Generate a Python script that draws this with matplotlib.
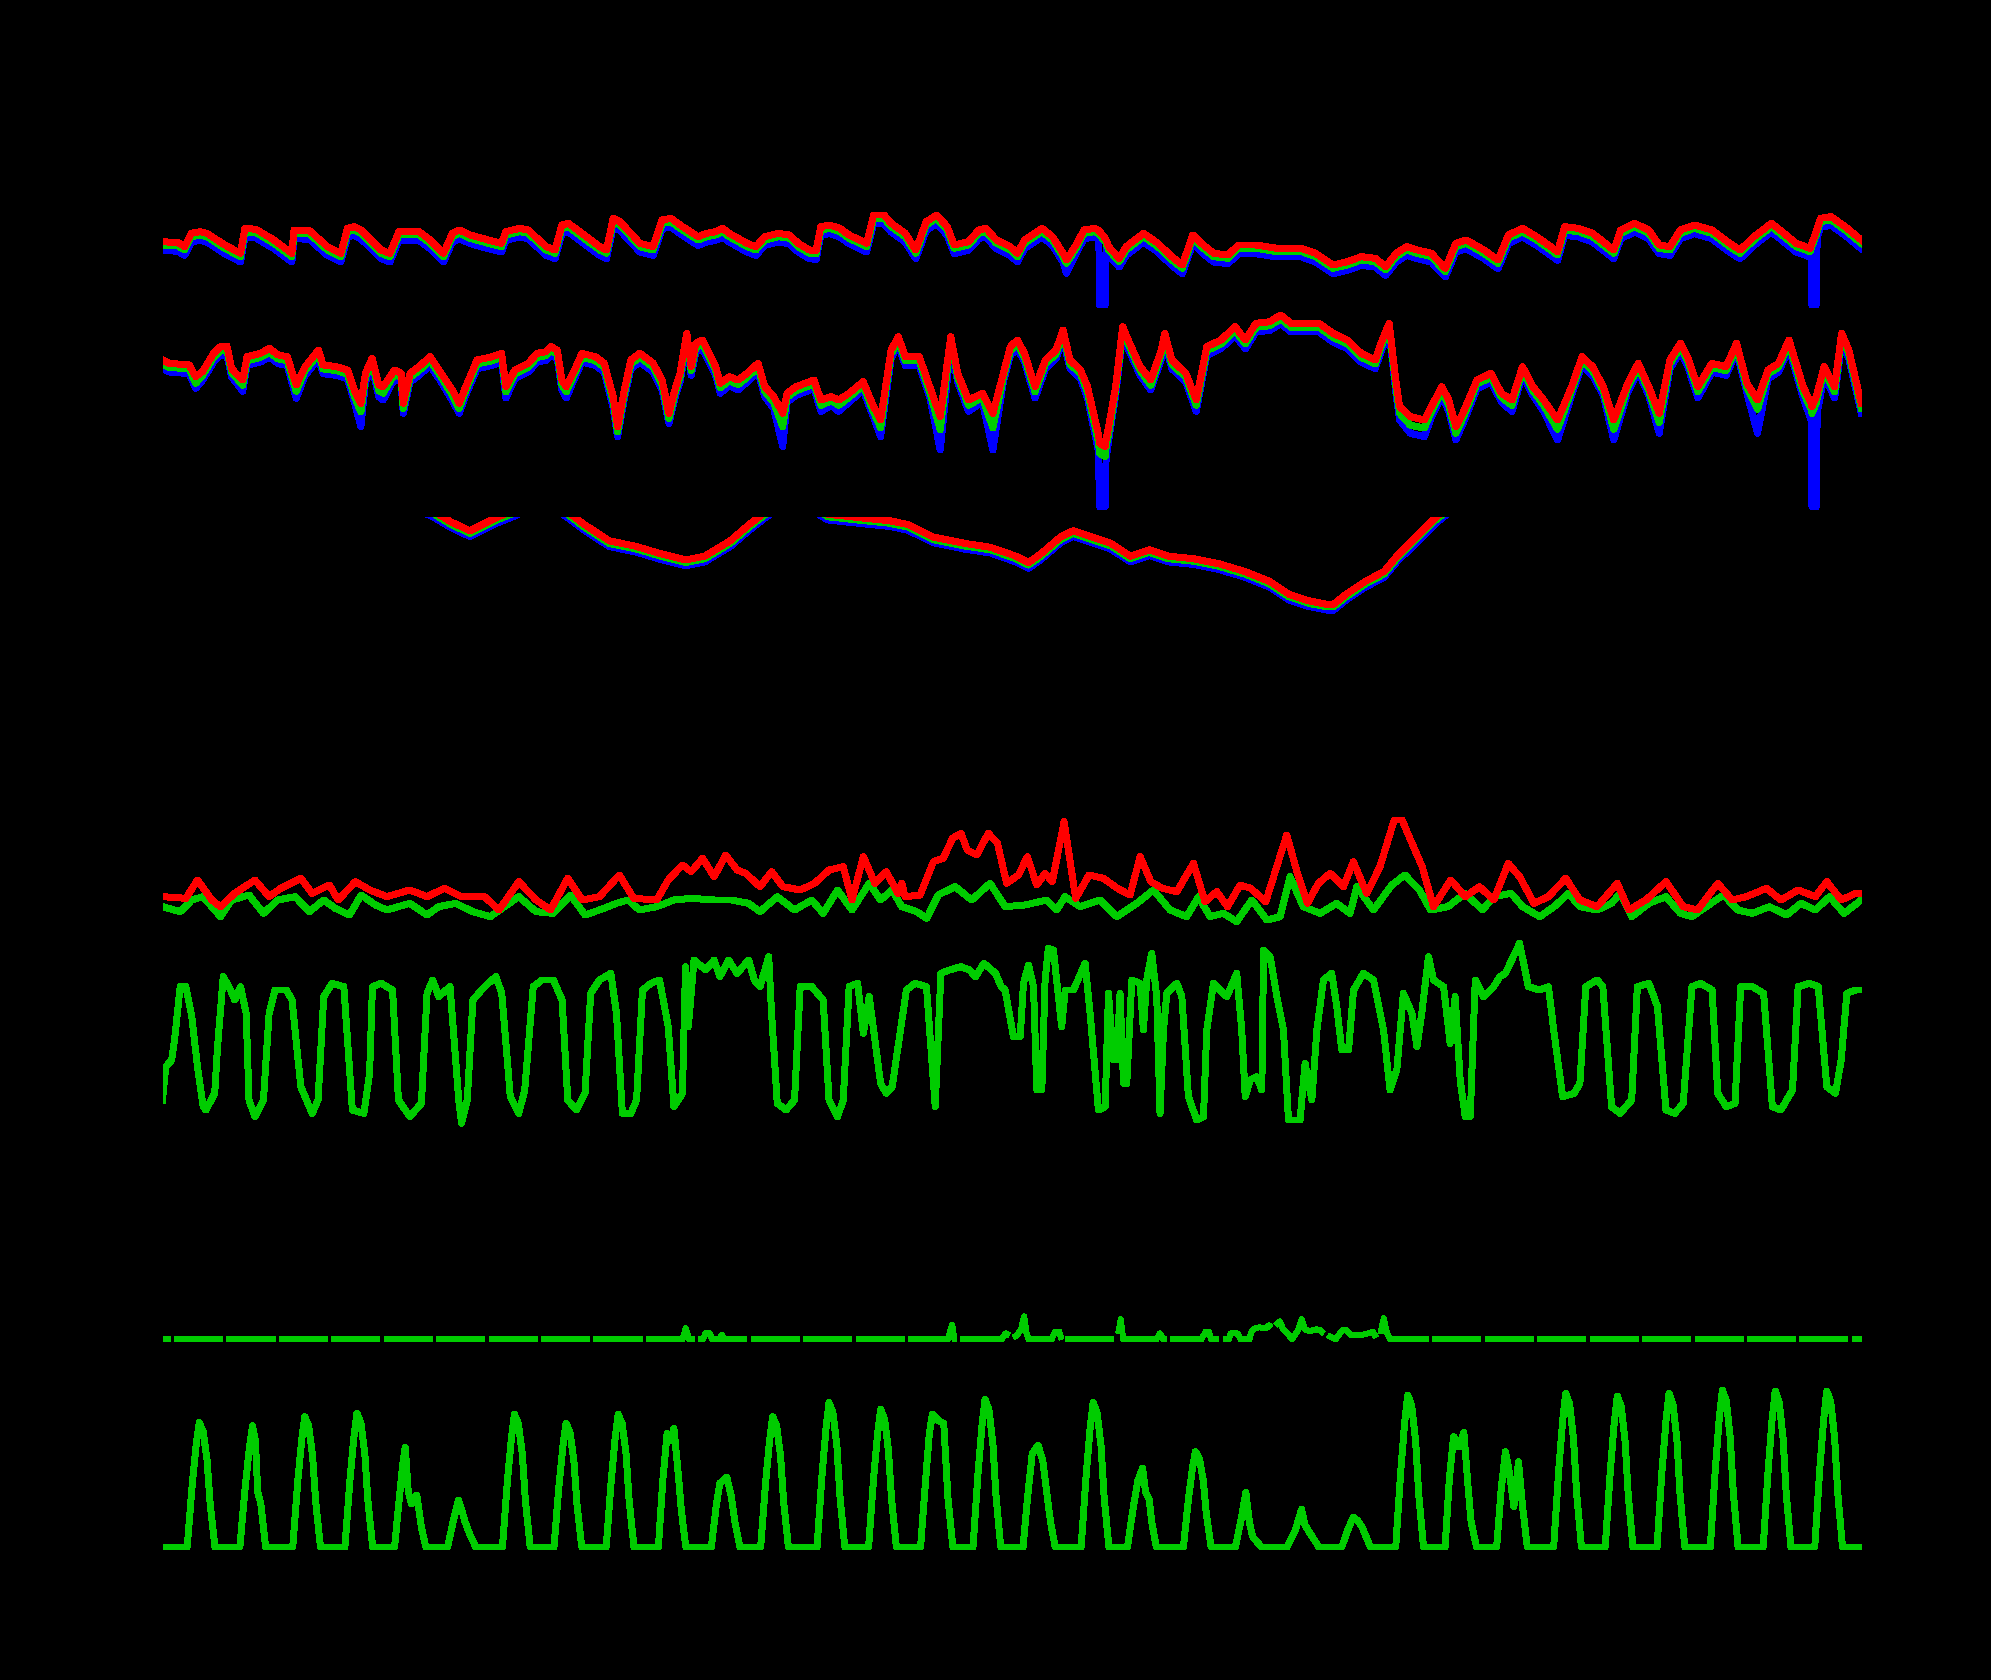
import numpy as np
import matplotlib
matplotlib.use("Agg")
import matplotlib.pyplot as plt

nan = np.nan

# ---------------- data (time in hours from start) ----------------
# Panel 1: temperature max / mean / min (degC)
t_temp = [0, 7.1, 10.1, 13.2, 17.3, 20.3, 28.5, 35.7, 37.7, 42.8,
          51.0, 59.2, 60.2, 67.3, 75.5, 81.6, 84.7, 87.8, 90.8, 100.0,
          104.1, 108.2, 117.4, 122.5, 128.6, 132.7, 135.8, 140.9, 149.1, 155.2,
          157.2, 163.4, 167.4, 175.6, 179.7, 182.8, 185.8, 188.9, 200.1, 203.2,
          206.3, 209.3, 214.4, 218.5, 224.6, 228.7, 232.8, 236.9, 245.1, 249.2,
          253.2, 256.3, 259.4, 267.6, 271.6, 275.7, 281.9, 287.0, 291.0, 296.1,
          299.2, 301.3, 305.3, 310.0, 314.3, 322.3, 325.5, 330.3, 333.5, 340.0,
          344.8, 349.6, 354.4, 359.2, 362.4, 368.9, 373.7, 376.9, 381.7, 388.1,
          391.3, 394.6, 402.6, 407.4, 412.2, 413.8, 418.6, 421.8, 426.7, 428.6,
          429.0, 431.5, 431.9, 433.1, 437.9, 441.1, 449.1, 455.6, 462.0, 466.8,
          471.6, 476.4, 481.2, 487.7, 492.5, 500.5, 510.2, 521.4, 527.8, 535.8,
          542.3, 548.7, 555.1, 559.9, 564.7, 569.5, 574.4, 580.8, 587.2, 592.0,
          596.8, 604.9, 611.3, 616.1, 622.5, 629.0, 638.6, 641.8, 648.2, 654.6,
          664.3, 667.5, 673.9, 680.3, 685.1, 690.0, 694.8, 701.2, 709.2, 717.3,
          722.1, 728.5, 736.5, 741.3, 747.8, 754.2, 754.6, 755.0, 757.0, 757.4,
          759.0, 763.8, 770.2, 777.6]
temp_max = [27.5, 27.2, 26.0, 30.0, 30.5, 30.0, 26.5, 24.0, 31.5, 31.2,
            28.0, 24.0, 31.0, 30.8, 26.0, 24.0, 31.5, 32.0, 31.0, 25.0,
            24.0, 30.5, 30.5, 28.0, 24.0, 30.0, 31.0, 29.5, 28.0, 27.0,
            30.5, 31.5, 31.0, 26.0, 25.0, 32.5, 33.0, 31.5, 26.0, 25.0,
            34.5, 33.5, 30.0, 27.0, 26.0, 34.0, 34.5, 32.5, 29.0, 30.0,
            30.5, 31.5, 30.0, 27.0, 26.0, 29.0, 30.0, 29.5, 27.0, 25.0,
            24.8, 32.0, 32.5, 31.5, 29.5, 27.0, 35.5, 35.5, 33.0, 30.0,
            25.0, 33.5, 35.5, 32.0, 26.5, 27.5, 31.0, 31.5, 28.0, 26.0,
            24.0, 28.0, 31.5, 29.0, 24.0, 22.0, 27.0, 31.0, 31.5, 30.8,
            30.5, 28.5, 28.0, 26.0, 22.5, 26.0, 30.0, 27.0, 23.0, 20.5,
            29.5, 26.5, 24.0, 23.5, 26.5, 26.5, 25.5, 25.5, 24.0, 20.5,
            21.5, 23.0, 22.5, 20.0, 24.0, 26.0, 25.0, 24.0, 19.5, 27.0,
            28.0, 25.0, 22.0, 29.5, 31.5, 29.0, 24.5, 32.0, 31.5, 30.0,
            25.0, 31.0, 33.0, 31.0, 26.5, 26.0, 31.0, 32.5, 31.0, 27.0,
            25.0, 29.0, 33.0, 30.5, 27.0, 25.5, 26.2, 27.0, 30.5, 31.5,
            34.5, 35.0, 32.0, 28.0]
temp_mean = [26.5, 26.2, 25.0, 29.0, 29.5, 29.0, 25.5, 23.0, 30.5, 30.2,
             27.0, 23.0, 30.0, 29.8, 25.0, 23.0, 30.5, 31.0, 30.0, 24.0,
             23.0, 29.5, 29.5, 27.0, 23.0, 29.0, 30.0, 28.5, 27.0, 26.0,
             29.5, 30.5, 30.0, 25.0, 24.0, 31.5, 32.0, 30.5, 25.0, 24.0,
             33.5, 32.5, 29.0, 26.0, 25.0, 33.0, 33.5, 31.5, 28.0, 29.0,
             29.5, 30.5, 29.0, 26.0, 25.0, 28.0, 29.0, 28.5, 26.0, 24.0,
             23.8, 31.0, 31.5, 30.5, 28.5, 26.0, 34.5, 34.5, 32.0, 29.0,
             24.0, 32.5, 34.5, 31.0, 25.5, 26.5, 30.0, 30.5, 27.0, 25.0,
             23.0, 27.0, 30.5, 28.0, 23.0, 21.0, 26.0, 30.0, 30.5, 29.8,
             29.5, 27.5, 27.0, 25.0, 21.5, 25.0, 29.0, 26.0, 22.0, 19.5,
             28.5, 25.5, 23.0, 22.5, 25.5, 25.5, 24.5, 24.5, 23.0, 19.5,
             20.5, 22.0, 21.5, 19.0, 23.0, 25.0, 24.0, 23.0, 18.5, 26.0,
             27.0, 24.0, 21.0, 28.5, 30.5, 28.0, 23.5, 31.0, 30.5, 29.0,
             24.0, 30.0, 32.0, 30.0, 25.5, 25.0, 30.0, 31.5, 30.0, 26.0,
             24.0, 28.0, 32.0, 29.5, 26.0, 24.5, 25.2, 26.0, 29.5, 30.5,
             33.5, 34.0, 31.0, 27.0]
temp_min = [24.9, 24.6, 23.4, 27.4, 27.9, 27.4, 23.9, 21.4, 28.9, 28.6,
            25.4, 21.4, 28.4, 28.2, 23.4, 21.4, 28.9, 29.4, 28.4, 22.4,
            21.4, 27.9, 27.9, 25.4, 21.4, 27.4, 28.4, 26.9, 25.4, 24.4,
            27.9, 28.9, 28.4, 23.4, 22.4, 29.9, 30.4, 28.9, 23.4, 22.4,
            31.9, 30.9, 27.4, 24.4, 23.4, 31.4, 31.9, 29.9, 26.4, 27.4,
            27.9, 28.9, 27.4, 24.4, 23.4, 26.4, 27.4, 26.9, 24.4, 22.4,
            22.2, 29.4, 29.9, 28.9, 26.9, 24.4, 32.9, 32.9, 30.4, 27.4,
            22.4, 30.9, 32.9, 29.4, 23.9, 24.9, 28.4, 28.9, 25.4, 23.4,
            21.4, 25.4, 28.9, 26.4, 21.4, 18.0, 24.4, 28.4, 28.9, 28.2,
            8.5, 8.5, 25.4, 23.4, 19.9, 23.4, 27.4, 24.4, 20.4, 17.9,
            26.9, 23.9, 21.4, 20.9, 23.9, 23.9, 22.9, 22.9, 21.4, 17.9,
            18.9, 20.4, 19.9, 17.4, 21.4, 23.4, 22.4, 21.4, 16.9, 24.4,
            25.4, 22.4, 19.4, 26.9, 28.9, 26.4, 21.9, 29.4, 28.9, 27.4,
            22.4, 28.4, 30.4, 28.4, 23.9, 23.4, 28.4, 29.9, 28.4, 24.4,
            22.4, 26.4, 30.4, 27.9, 24.4, 22.9, 23.6, 8.5, 8.5, 28.9,
            31.9, 32.4, 29.4, 25.4]

# Panel 2: dew point max / mean / min (degC)
t_dew = [0, 3.0, 12.2, 15.2, 18.3, 23.4, 26.5, 29.5, 31.6, 33.6,
         36.7, 38.7, 44.9, 48.9, 53.0, 57.1, 61.2, 65.3, 71.4, 73.5,
         79.6, 84.7, 87.8, 90.8, 92.9, 95.9, 99.0, 101.0, 106.2, 109.2,
         110.2, 113.3, 117.4, 122.5, 127.6, 132.7, 135.8, 138.8, 144.0, 151.1,
         155.2, 157.2, 161.3, 167.4, 171.5, 175.6, 177.7, 180.7, 182.8, 184.8,
         187.9, 192.0, 198.1, 202.2, 206.3, 208.3, 211.4, 214.4, 218.5, 224.6,
         228.7, 231.8, 234.9, 236.9, 240.0, 242.0, 244.1, 247.1, 250.2, 253.2,
         255.3, 259.4, 263.5, 267.6, 272.6, 275.7, 279.8, 283.9, 285.9, 290.0,
         298.2, 301.4, 306.2, 309.5, 314.3, 320.7, 325.5, 328.7, 333.5, 336.8,
         340.0, 346.4, 351.2, 356.0, 360.8, 364.0, 368.9, 375.3, 380.1, 384.9,
         388.1, 391.3, 394.6, 399.4, 404.2, 409.0, 412.2, 415.4, 420.2, 423.4,
         428.3, 429.0, 431.5, 431.9, 433.1, 436.3, 439.5, 442.7, 447.5, 452.4,
         457.2, 458.8, 462.0, 468.4, 473.2, 478.0, 484.5, 490.9, 495.7, 500.5,
         506.9, 511.8, 516.6, 523.0, 529.4, 535.8, 542.3, 548.7, 555.1, 558.3,
         561.5, 564.7, 566.3, 571.2, 577.6, 580.8, 585.6, 588.8, 592.0, 595.2,
         601.7, 608.1, 612.9, 617.7, 622.5, 627.3, 632.2, 638.6, 645.0, 649.8,
         654.6, 659.5, 664.3, 670.7, 675.5, 680.3, 685.1, 690.0, 694.8, 698.0,
         702.8, 709.2, 715.7, 720.5, 725.3, 730.1, 734.9, 739.7, 744.5, 751.0,
         754.6, 755.0, 757.0, 757.4, 760.6, 765.4, 768.6, 771.9, 777.6]
dew_max = [6.0, 5.5, 5.25, 3.5, 4.25, 7.0, 8.0, 8.1, 4.75, 4.0,
           3.0, 6.5, 7.0, 7.75, 6.75, 6.5, 2.25, 5.0, 7.5, 5.25,
           5.0, 4.5, 1.5, -0.5, 4.0, 6.25, 2.25, 2.0, 4.5, 4.0,
           -0.5, 4.0, 5.0, 6.5, 4.0, 1.5, -0.5, 2.0, 6.0, 6.5,
           7.0, 2.0, 4.5, 5.5, 7.0, 7.25, 8.0, 7.5, 3.0, 2.0,
           4.0, 7.0, 6.5, 5.5, 0.5, -4.0, 1.5, 6.0, 7.0, 5.5,
           3.0, -2.0, 2.0, 4.0, 10.0, 5.0, 8.5, 9.0, 7.0, 5.0,
           2.5, 3.5, 3.0, 4.0, 5.5, 2.0, 0.5, -2.0, 1.0, 2.0,
           3.0, 0.0, 0.5, 0.0, 1.0, 2.75, -1.0, -3.0, 7.5, 9.5,
           6.5, 6.5, 2.0, -2.5, 9.5, 4.0, 0.0, 1.0, -2.0, 4.0,
           8.0, 9.0, 7.0, 2.0, 6.0, 7.5, 10.5, 6.0, 4.5, 2.0,
           -5.0, -6.5, -7.0, -6.0, -4.0, 2.0, 11.0, 8.5, 5.0, 3.0,
           7.5, 10.0, 6.0, 4.0, 0.0, 8.0, 9.0, 11.0, 9.0, 11.5,
           11.75, 12.75, 11.5, 11.5, 11.5, 10.0, 9.0, 7.0, 6.0, 9.0,
           11.5, 2.5, -1.0, -2.5, -3.0, -1.0, 2.0, 0.0, -4.0, -2.0,
           3.0, 4.0, 1.0, 0.0, 5.0, 2.0, 0.0, -3.0, 2.0, 6.5,
           5.0, 2.0, -3.0, 2.5, 5.5, 2.0, -2.0, 6.0, 8.5, 6.5,
           2.0, 5.5, 5.0, 8.5, 2.5, 0.0, 4.5, 5.5, 9.0, 2.0,
           -0.5, -1.0, 0.5, 1.0, 5.0, 2.0, 10.0, 7.5, -0.5]
dew_mean = [5.4, 4.9, 4.65, 2.5, 3.65, 6.4, 7.4, 7.5, 4.15, 3.4,
            2.2, 5.9, 6.4, 7.15, 6.15, 5.9, 1.3, 4.4, 6.9, 4.65,
            4.4, 3.9, 0.6, -1.8, 3.4, 5.65, 1.4, 1.0, 3.9, 3.4,
            -1.3, 3.4, 4.4, 5.9, 3.4, 0.7, -1.3, 1.4, 5.4, 5.9,
            6.4, 1.2, 3.9, 4.9, 6.4, 6.65, 7.4, 6.9, 2.3, 1.2,
            3.4, 6.4, 5.9, 4.9, -0.3, -4.8, 0.9, 5.4, 6.4, 4.9,
            2.3, -2.8, 1.4, 3.4, 9.4, 4.4, 7.9, 8.4, 6.4, 4.4,
            1.8, 2.9, 2.3, 3.4, 4.9, 1.3, -0.4, -4.0, 0.4, 1.4,
            2.4, -0.8, -0.1, -0.8, 0.4, 2.15, -1.8, -4.2, 6.9, 8.9,
            5.9, 5.9, 1.2, -4.5, 8.9, 3.4, -0.8, 0.4, -4.2, 3.4,
            7.4, 8.4, 6.4, 1.2, 5.4, 6.9, 9.9, 5.4, 3.9, 1.2,
            -6.2, -8.0, -8.5, -7.2, -5.0, 1.4, 10.4, 7.9, 4.4, 2.2,
            6.9, 9.4, 5.4, 3.4, -0.8, 7.4, 8.4, 10.4, 8.4, 10.9,
            11.15, 12.15, 10.9, 10.9, 10.9, 9.4, 8.4, 6.4, 5.4, 8.4,
            10.9, 1.6, -2.0, -3.8, -4.2, -1.8, 1.4, -0.8, -5.0, -2.8,
            2.4, 3.4, 0.4, -0.8, 4.4, 1.4, -0.8, -4.4, 1.4, 5.9,
            4.4, 1.4, -4.4, 1.9, 4.9, 1.4, -3.4, 5.4, 7.9, 5.9,
            1.2, 4.9, 4.4, 7.9, 1.8, -1.4, 3.9, 4.9, 8.4, 1.2,
            -1.4, -2.0, -0.5, 0.2, 4.4, 1.2, 9.4, 6.9, -1.2]
dew_min = [4.7, 4.2, 3.95, 1.75, 2.95, 5.7, 6.7, 6.8, 3.45, 2.7,
           1.3, 5.2, 5.7, 6.45, 5.45, 5.2, 0.25, 3.7, 6.2, 3.95,
           3.7, 3.2, -0.3, -4.0, 2.7, 4.95, 0.5, 0.0, 3.2, 2.7,
           -2.0, 2.7, 3.7, 5.2, 2.7, -0.1, -2.0, 0.7, 4.7, 5.2,
           5.7, 0.3, 3.2, 4.2, 5.7, 5.95, 6.7, 6.2, 1.5, 0.3,
           2.7, 5.7, 5.2, 4.2, -1.2, -5.5, 0.2, 4.7, 5.7, 4.2,
           1.5, -3.5, 0.7, 2.7, 8.7, 3.7, 7.2, 7.7, 5.7, 3.7,
           1.0, 2.2, 1.5, 2.7, 4.2, 0.5, -1.3, -7.0, -0.3, 0.7,
           1.7, -1.7, -0.8, -1.7, -0.3, 1.45, -2.6, -5.5, 6.2, 8.2,
           5.2, 5.2, 0.4, -7.5, 8.2, 2.7, -1.7, -0.3, -7.5, 2.7,
           6.7, 7.7, 5.7, 0.3, 4.7, 6.2, 9.2, 4.7, 3.2, 0.3,
           -7.5, -16.0, -16.0, -9.0, -6.0, 0.7, 9.7, 7.2, 3.7, 1.5,
           6.2, 8.7, 4.7, 2.7, -1.7, 6.7, 7.7, 9.7, 7.7, 10.2,
           10.45, 11.45, 10.2, 10.2, 10.2, 8.7, 7.7, 5.7, 4.7, 7.7,
           10.2, 0.7, -3.0, -5.0, -5.5, -2.6, 0.7, -1.7, -6.0, -3.6,
           1.7, 2.7, -0.3, -1.7, 3.7, 0.7, -1.7, -6.0, 0.7, 5.2,
           3.7, 0.7, -6.0, 1.2, 4.2, 0.7, -5.0, 4.7, 7.2, 5.2,
           0.3, 4.2, 3.7, 7.2, 1.0, -5.0, 3.2, 4.2, 7.7, 0.3,
           -3.0, -16.0, -16.0, -2.0, 3.7, 0.3, 8.7, 6.2, -2.0]

# Panel 3: pressure max / mean / min (hPa)
t_pres = [0, 40, 80, 110, 124.4, 132.0, 140.7, 146.5, 152.3, 161.0,
          170, 180, 185.4, 193.0, 204.6, 216.2, 227.9, 239.5, 248.2, 259.8,
          268.6, 276.1, 285, 295, 304.6, 320.9, 332.5, 341.2, 352.9, 367.4,
          379.0, 390.6, 396.4, 402.2, 411.0, 416.8, 425.5, 434.2, 443.0, 451.7,
          460.4, 472.0, 483.6, 495.3, 506.9, 515.6, 524.3, 533.1, 536.0, 541.8,
          550.5, 559.2, 565.0, 573.8, 582.5, 588.3, 600, 650, 700, 777.6]
pres_max = [1031.7, 1032.4, 1032.0, 1030.8, 1029.7, 1028.9, 1028.2, 1028.7, 1029.2, 1029.8,
            1030.6, 1030.3, 1029.7, 1028.7, 1027.4, 1027.0, 1026.4, 1025.9, 1026.2, 1027.4,
            1028.7, 1029.7, 1030.7, 1030.5, 1029.5, 1029.2, 1029.0, 1028.7, 1027.7, 1027.2,
            1026.9, 1026.2, 1025.7, 1026.4, 1027.7, 1028.2, 1027.7, 1027.2, 1026.2, 1026.7,
            1026.2, 1026.0, 1025.6, 1025.0, 1024.2, 1023.2, 1022.7, 1022.4, 1022.4, 1023.2,
            1024.2, 1025.0, 1026.2, 1027.7, 1029.2, 1030.0, 1031.2, 1032.2, 1031.8, 1031.4]
pres_mean = [1031.5, 1032.2, 1031.8, 1030.6, 1029.5, 1028.7, 1028.0, 1028.5, 1029.0, 1029.6,
             1030.4, 1030.1, 1029.5, 1028.5, 1027.2, 1026.8, 1026.2, 1025.7, 1026.0, 1027.2,
             1028.5, 1029.5, 1030.5, 1030.3, 1029.3, 1029.0, 1028.8, 1028.5, 1027.5, 1027.0,
             1026.7, 1026.0, 1025.5, 1026.2, 1027.5, 1028.0, 1027.5, 1027.0, 1026.0, 1026.5,
             1026.0, 1025.8, 1025.4, 1024.8, 1024.0, 1023.0, 1022.5, 1022.2, 1022.2, 1023.0,
             1024.0, 1024.8, 1026.0, 1027.5, 1029.0, 1029.8, 1031.0, 1032.0, 1031.6, 1031.2]
pres_min = [1031.25, 1031.95, 1031.55, 1030.35, 1029.25, 1028.45, 1027.75, 1028.25, 1028.75, 1029.35,
            1030.15, 1029.85, 1029.25, 1028.25, 1026.95, 1026.55, 1025.95, 1025.45, 1025.75, 1026.95,
            1028.25, 1029.25, 1030.25, 1030.05, 1029.05, 1028.75, 1028.55, 1028.25, 1027.25, 1026.75,
            1026.45, 1025.75, 1025.25, 1025.95, 1027.25, 1027.75, 1027.25, 1026.75, 1025.75, 1026.25,
            1025.75, 1025.55, 1025.15, 1024.55, 1023.75, 1022.75, 1022.25, 1021.95, 1021.95, 1022.75,
            1023.75, 1024.55, 1025.75, 1027.25, 1028.75, 1029.55, 1030.75, 1031.75, 1031.35, 1030.95]

# Panel 4: wind gust and mean wind (m/s)
t_gust = [0, 10.7, 16.0, 22.6, 26.5, 33.1, 42.3, 48.8, 54.1, 63.3,
          68.5, 76.4, 80.4, 88.3, 94.9, 102.7, 113.2, 121.1, 129.0, 136.9,
          147.4, 154.0, 163.1, 171.0, 177.6, 185.5, 192.1, 200.0, 209.1, 215.7,
          226.2, 231.5, 238.0, 242.0, 247.2, 252.5, 257.8, 263.0, 267.0, 273.5,
          278.8, 284.0, 291.9, 298.5, 305.1, 311.6, 315.6, 320.8, 326.1, 331.3,
          336.6, 338.4, 339.9, 346.8, 352.9, 357.4, 361.6, 365.5, 368.4, 372.7,
          378.0, 382.2, 386.4, 391.8, 395.9, 400.2, 404.0, 407.3, 412.7, 418.0,
          424.1, 430.7, 437.1, 442.9, 447.5, 452.4, 457.7, 464.3, 471.9, 477.2,
          482.6, 487.5, 493.3, 498.1, 505.0, 514.6, 519.5, 524.1, 529.1, 534.5,
          540.6, 545.1, 551.2, 557.3, 563.8, 567.4, 571.3, 576.6, 581.8, 589.7,
          596.3, 602.8, 609.4, 616.0, 621.2, 627.8, 634.4, 642.3, 648.8, 656.7,
          665.9, 671.2, 679.0, 688.2, 696.1, 702.7, 711.9, 718.5, 725.0, 734.2,
          740.8, 748.7, 756.6, 761.8, 768.4, 775.0, 777.6]
gust = [5.5, 5.25, 8.0, 5.0, 4.0, 6.0, 8.0, 5.5, 6.75, 8.25,
        6.0, 7.25, 5.0, 7.75, 6.5, 5.5, 6.5, 5.5, 6.75, 5.5,
        5.5, 3.5, 7.75, 5.0, 3.5, 8.25, 5.0, 5.5, 8.75, 5.25,
        5.0, 8.0, 10.25, 9.25, 11.25, 8.5, 11.75, 9.5, 9.0, 7.0,
        9.25, 7.0, 6.5, 7.5, 9.5, 10.0, 5.0, 11.5, 7.5, 9.25,
        6.0, 7.5, 5.5, 5.75, 10.75, 11.25, 14.25, 15.0, 12.5, 11.75,
        15.0, 13.5, 7.5, 8.75, 11.5, 7.25, 9.0, 7.75, 16.75, 5.25,
        8.75, 8.25, 6.75, 5.75, 11.5, 7.75, 6.75, 6.25, 10.5, 4.75,
        6.25, 4.0, 7.25, 6.75, 4.75, 14.75, 9.0, 4.5, 7.5, 9.0,
        7.0, 10.75, 6.0, 10.0, 17.0, 17.0, 14.0, 10.0, 4.0, 8.0,
        5.5, 7.0, 5.0, 10.5, 8.5, 4.5, 5.5, 8.25, 5.0, 4.0,
        7.5, 3.5, 5.0, 7.75, 4.0, 3.5, 7.5, 5.0, 5.5, 6.75,
        5.0, 6.5, 5.5, 7.75, 5.0, 6.0, 6.0]
t_wind = [0, 8.1, 13.4, 18.6, 26.5, 31.7, 39.6, 46.2, 52.8, 60.7,
          67.2, 73.8, 79.1, 85.6, 90.9, 97.5, 102.7, 113.2, 121.1, 126.4,
          134.2, 142.1, 150.0, 163.1, 171.0, 178.9, 186.8, 193.4, 200.0, 207.8,
          213.1, 218.3, 226.2, 234.1, 242.0, 252.5, 260.4, 268.3, 273.5, 281.4,
          289.3, 297.2, 302.4, 309.0, 315.6, 323.5, 328.7, 334.0, 338.4, 345.2,
          349.8, 355.1, 362.8, 370.4, 378.8, 385.7, 394.8, 404.7, 409.3, 413.1,
          420.0, 429.2, 436.8, 446.0, 453.6, 461.2, 468.8, 474.2, 479.5, 485.6,
          491.7, 498.6, 505.5, 511.6, 516.1, 522.2, 529.9, 537.5, 543.6, 546.7,
          554.3, 562.7, 568.7, 575.3, 580.5, 588.4, 596.3, 604.2, 609.4, 617.3,
          622.6, 630.4, 637.0, 643.6, 648.8, 656.7, 663.3, 667.2, 672.5, 680.4,
          688.2, 694.8, 700.1, 706.6, 714.5, 721.1, 727.7, 735.6, 743.4, 750.0,
          756.6, 763.1, 769.7, 777.6]
wind = [4.0, 3.25, 5.0, 5.5, 2.5, 5.0, 5.75, 3.0, 5.0, 5.5,
        3.25, 5.0, 3.75, 2.75, 5.75, 4.25, 3.5, 4.5, 2.75, 4.0,
        4.5, 3.25, 2.5, 5.5, 3.25, 3.0, 5.75, 2.75, 3.5, 4.5,
        5.0, 3.5, 4.0, 5.0, 5.25, 5.0, 5.0, 4.5, 3.25, 5.5,
        3.5, 5.0, 3.0, 6.5, 3.5, 7.5, 5.0, 6.5, 4.0, 3.25,
        2.25, 5.75, 7.0, 5.0, 7.5, 4.0, 4.25, 5.0, 3.5, 5.5,
        4.0, 5.0, 2.5, 4.5, 6.5, 3.5, 2.5, 5.5, 2.5, 3.0,
        1.75, 5.0, 2.0, 2.5, 8.5, 4.0, 3.0, 4.5, 3.0, 7.0,
        3.5, 7.25, 8.75, 6.5, 3.5, 4.0, 6.0, 3.5, 5.5, 6.0,
        4.0, 2.5, 4.0, 6.0, 4.0, 3.5, 4.5, 6.0, 2.5, 4.5,
        5.5, 3.0, 2.5, 4.0, 5.75, 3.5, 3.0, 4.0, 2.75, 4.5,
        3.5, 5.5, 3.0, 5.0]

# Panel 5: relative humidity (%)
t_rh = [0, 1.5, 4.2, 5.5, 8.1, 10.7, 13.4, 16.0, 18.6, 19.9,
        23.9, 25.2, 27.8, 30.4, 33.1, 35.7, 38.3, 39.6, 42.3, 46.2,
        48.8, 51.5, 56.7, 59.3, 63.3, 68.5, 71.2, 73.8, 77.7, 83.0,
        86.9, 92.2, 94.8, 96.1, 100.1, 105.3, 108.0, 113.2, 118.5, 121.1,
        123.7, 126.4, 131.6, 135.6, 136.9, 139.5, 142.1, 147.4, 152.6, 155.3,
        159.2, 163.1, 165.8, 169.7, 173.7, 178.9, 182.9, 185.5, 189.4, 193.4,
        196.0, 200.0, 205.2, 207.8, 210.5, 214.4, 217.0, 219.7, 223.6, 227.5,
        231.5, 234.1, 238.0, 239.4, 240.7, 243.3, 248.6, 252.5, 255.1, 259.1,
        263.0, 268.3, 270.9, 273.5, 277.5, 278.8, 281.4, 285.4, 289.3, 291.9,
        297.2, 302.4, 305.1, 309.0, 311.6, 314.3, 318.2, 320.8, 323.5, 328.7,
        331.3, 334.0, 340.5, 344.5, 349.7, 353.7, 356.3, 360.2, 365.5, 369.4,
        372.1, 376.0, 381.3, 383.9,
        385.7, 389.5, 392.6, 394.1, 396.4, 398.7, 400.2, 402.5, 404.0, 405.5,
        407.8, 410.1, 411.6, 413.2, 417.0, 422.3, 424.6, 428.4, 431.5, 433.0,
        435.3, 436.8, 438.3, 439.9, 441.4, 443.7, 447.5, 449.0, 450.5, 452.8,
        455.1, 456.6, 458.2, 459.7, 464.3, 466.6, 469.6, 473.4, 476.5, 478.0,
        481.1, 487.2, 491.7, 494.0, 495.6, 497.9, 500.9, 503.2, 504.0, 507.0,
        510.1, 513.1, 515.4, 520.7, 523.0, 526.1, 528.4, 531.4, 535.2, 537.5,
        539.8, 542.9, 545.2, 549.7, 554.3, 558.9, 561.9, 565.0, 568.0, 571.9,
        574.2, 576.4, 579.5, 581.8, 586.4, 589.4, 591.7, 594.0, 596.3, 598.6,
        600.9, 604.7, 609.3, 612.2,
        614.7, 621.2, 625.2, 630.4, 634.4, 637.0, 640.9, 646.2, 648.8,
        651.5, 656.7, 659.3, 663.3, 667.2, 672.5, 675.1, 680.4, 684.3,
        688.2, 692.2, 696.1, 700.1, 704.0, 709.3, 711.9, 715.8, 719.8, 722.4,
        727.7, 732.9, 736.9, 740.8, 746.1, 748.7, 753.9, 757.9, 761.8, 765.8,
        768.4, 771.0, 775.0, 777.6]
rh = [52, 62, 64, 70, 86, 86, 77, 62, 50, 49,
      54, 68, 89, 86, 82, 86, 78, 52, 47, 52,
      78, 85, 85, 82, 56, 48, 52, 83, 87, 86,
      49, 48, 60, 86, 87, 85, 52, 47, 51, 84,
      88, 83, 86, 52, 45, 52, 82, 86, 89, 84,
      53, 48, 55, 86, 88, 88, 82, 52, 49, 54,
      84, 88, 90, 78, 48, 48, 52, 85, 87, 88,
      74, 50, 54, 92, 74, 94, 91, 94, 89, 94,
      90, 94, 88, 86, 95, 78, 51, 49, 52, 86,
      86, 82, 52, 47, 52, 86, 87, 72, 83, 57,
      54, 56, 85, 87, 86, 50, 90, 91, 92, 91,
      89, 93, 90, 86,
      85, 71, 71, 87, 92.5, 86, 55, 55, 88, 97.5,
      97, 83, 74, 85, 85, 93, 78, 49, 50, 84,
      64, 64, 84, 57, 57, 88, 87, 73, 88, 96,
      83, 48, 73, 84, 87, 83, 53, 46, 47, 73,
      87, 83, 90, 73, 53, 58, 59, 55, 97, 95,
      83, 73, 46, 46, 63, 52, 73, 88, 90, 80,
      67, 67, 85, 90, 88, 73, 55, 61, 84, 78,
      68, 78, 95, 88, 86, 69, 83, 58, 47, 47,
      88, 83, 86, 89,
      90, 99, 86, 85, 86, 72, 53, 54, 57,
      86, 88, 86, 50, 48, 52, 86, 87, 80,
      49, 48, 51, 86, 87, 85, 54, 50, 51, 86,
      86, 84, 50, 49, 55, 86, 87, 86, 56, 54,
      64, 84, 85, 85]

# Panel 6: rainfall (mm), broken at each local day boundary
t_rain = [0, 3.5, 4.5,
          5.5, 27.5, 28.5,
          29.5, 51.5, 52.5,
          53.5, 75.5, 76.5,
          77.5, 99.5, 100.5,
          101.5, 123.5, 124.5,
          125.5, 147.5, 148.5,
          149.5, 171.5, 172.5,
          173.5, 195.5, 196.5,
          197.5, 219.5, 220.5,
          221.5, 238, 239.5, 241, 243.5, 244.5,
          245.5, 247.5, 248.5, 250.5, 251.5, 255, 256, 257, 267.5, 268.5,
          269.5, 291.5, 292.5,
          293.5, 315.5, 316.5,
          317.5, 339.5, 340.5,
          341.5, 359.5, 360.5, 361.5, 362.5, 363.5, 364.5,
          365.5, 384, 386, 387.5, 388.5,
          389.5, 391, 393, 394.4, 395.5, 396.5, 407, 408.5, 410.5, 411.5, 412.5,
          413.5, 435.5, 436.5,
          437.5, 438.6, 439.8, 455, 456.5, 458, 459.5, 460.5,
          461.5, 475.5, 477.5, 479, 480, 483.5, 484.5,
          485.5, 488, 489, 492, 493.5, 497.5, 498.5, 500, 502, 505, 506.5, 507.5, 508.5,
          509.5, 511.5, 513, 515, 517, 520, 521.4, 523, 525, 528, 530, 531.5, 532.5,
          533.5, 535, 537, 540, 542, 544, 548, 552, 554, 555.5, 556.5,
          557.5, 559, 560.5, 562, 579.5, 580.5,
          581.5, 603.5, 604.5,
          605.5, 627.5, 628.5,
          629.5, 651.5, 652.5,
          653.5, 675.5, 676.5,
          677.5, 699.5, 700.5,
          701.5, 723.5, 724.5,
          725.5, 747.5, 748.5,
          749.5, 771.5, 772.5,
          773.5, 777.6]
rain = [0, 0, nan,
        0, 0, nan,
        0, 0, nan,
        0, 0, nan,
        0, 0, nan,
        0, 0, nan,
        0, 0, nan,
        0, 0, nan,
        0, 0, nan,
        0, 0, nan,
        0, 0, 0.55, 0, 0, nan,
        0, 0, 0.3, 0.3, 0, 0, 0.22, 0, 0, nan,
        0, 0, nan,
        0, 0, nan,
        0, 0, nan,
        0, 0, 0.4, 0.72, 0, 0, nan,
        0, 0, 0.3, 0.2, nan,
        0.1, 0.2, 0.5, 1.15, 0.3, 0, 0, 0.38, 0.38, 0, nan,
        0, 0, nan,
        0.3, 1.0, 0, 0, 0.3, 0, 0, nan,
        0, 0, 0.38, 0.38, 0, 0, nan,
        0, 0, 0.3, 0.3, 0, 0, 0.4, 0.55, 0.6, 0.55, 0.7, 0.6, nan,
        0.7, 0.9, 0.5, 0.3, 0, 0.5, 1.0, 0.5, 0.4, 0.5, 0.45, 0.3, nan,
        0.2, 0.1, 0, 0.45, 0.45, 0.2, 0.2, 0.3, 0.38, 0.1, nan,
        0.3, 1.05, 0.3, 0, 0, nan,
        0, 0, nan,
        0, 0, nan,
        0, 0, nan,
        0, 0, nan,
        0, 0, nan,
        0, 0, nan,
        0, 0, nan,
        0, 0, nan,
        0, 0]

# Panel 7: solar radiation (W/m2)
t_solar = [0,
           11.3, 13.6, 15.4, 16.8, 18.6, 20.4, 21.8, 24.0,
           35.4, 37.9, 39.8, 41.2, 42.5, 43.6, 45.0, 47.2,
           59.6, 61.9, 63.7, 65.1, 66.9, 68.7, 70.1, 72.3,
           83.5, 85.8, 87.6, 89.0, 90.8, 92.6, 94.0, 96.2,
           106.2, 108.5, 110.0, 111.1, 112.5, 114.0, 116.4, 118.5, 120.5,
           130.5, 133.0, 135.5, 137.0, 138.5, 140.5, 143.4,
           155.6, 157.9, 159.7, 161.1, 162.9, 164.7, 166.1, 168.3,
           179.2, 181.5, 183.3, 184.7, 186.5, 188.3, 189.7, 191.9,
           203.1, 205.4, 207.2, 208.6, 210.4, 212.2, 213.6, 215.8,
           227.0, 229.0, 231.0, 232.5, 234.1, 236.0, 237.5, 239.5,
           251.2, 253.5, 255.1, 258.3, 260.4, 262.0, 264.3,
           273.8, 276.1, 277.9, 279.3, 281.1, 282.9, 284.3, 286.5,
           299.6, 301.9, 303.7, 305.1, 306.9, 308.7, 310.1, 312.3,
           323.2, 325.5, 327.3, 328.7, 330.5, 332.3, 333.7, 335.9,
           347.0, 349.3, 351.0, 352.4, 355.0, 357.6, 359.5, 361.8,
           371.0, 373.3, 375.1, 376.5, 378.3, 380.1, 381.5, 383.7,
           393.9, 396.0, 398.1, 400.8, 402.9, 405.0, 406.5, 408.6,
           420.5, 422.8, 424.6, 426.0, 427.8, 429.6, 431.0, 433.2,
           441.7, 444.5, 446.5, 448.6, 450.0, 451.7, 452.8, 454.9,
           467.3, 469.6, 471.4, 472.8, 474.6, 476.4, 477.8, 480.0,
           491.1, 493.5, 495.9, 497.5, 499.0, 503.0,
           514.8, 518.5, 521.4, 523.0, 525.3, 529.3,
           539.8, 542.5, 545.0, 547.0, 549.0, 552.9,
           564.5, 566.8, 568.6, 570.0, 571.8, 573.6, 575.0, 577.2,
           587.1, 589.0, 591.0, 593.5, 595.7, 597.6, 599.0, 601.5,
           610.7, 612.8, 614.7, 616.5, 618.6, 620.7, 622.5, 624.7,
           636.8, 639.1, 640.9, 642.3, 644.1, 645.9, 647.3, 649.5,
           660.4, 662.7, 664.5, 665.9, 667.7, 669.5, 670.9, 673.1,
           684.1, 686.4, 688.2, 689.6, 691.4, 693.2, 694.6, 696.8,
           708.5, 710.8, 712.6, 714.0, 715.8, 717.6, 719.0, 721.2,
           732.7, 735.0, 736.8, 738.2, 740.0, 741.8, 743.2, 745.4,
           756.3, 758.6, 760.4, 761.8, 763.6, 765.4, 766.8, 769.0,
           777.6]
solar = [0,
         0, 373, 612, 746, 694, 522, 261, 0,
         0, 364, 600, 728, 640, 330, 260, 0,
         0, 391, 641, 782, 727, 547, 274, 0,
         0, 401, 658, 802, 746, 561, 281, 0,
         0, 300, 500, 598, 330, 260, 312, 120, 0,
         0, 150, 282, 220, 150, 80, 0,
         0, 398, 653, 796, 740, 557, 279, 0,
         0, 371, 608, 742, 690, 519, 260, 0,
         0, 398, 653, 796, 740, 557, 279, 0,
         0, 400, 682, 640, 712, 450, 220, 0,
         0, 250, 382, 418, 302, 150, 0,
         0, 391, 641, 782, 727, 547, 274, 0,
         0, 433, 710, 866, 805, 606, 303, 0,
         0, 413, 677, 826, 768, 578, 289, 0,
         0, 400, 680, 796, 760, 742, 300, 0,
         0, 443, 727, 886, 824, 620, 310, 0,
         0, 300, 560, 610, 520, 300, 150, 0,
         0, 433, 710, 866, 805, 606, 303, 0,
         0, 250, 400, 472, 330, 282, 150, 0,
         0, 286, 469, 572, 532, 400, 200, 0,
         0, 150, 326, 150, 62, 0,
         0, 100, 226, 130, 82, 0,
         0, 100, 178, 160, 122, 0,
         0, 456, 748, 912, 848, 638, 319, 0,
         0, 400, 662, 600, 686, 362, 150, 0,
         0, 350, 572, 450, 242, 512, 250, 0,
         0, 461, 756, 922, 857, 645, 323, 0,
         0, 453, 743, 906, 843, 634, 317, 0,
         0, 461, 756, 922, 857, 645, 323, 0,
         0, 471, 772, 942, 876, 659, 330, 0,
         0, 468, 768, 936, 870, 655, 328, 0,
         0, 468, 768, 936, 870, 655, 328, 0,
         0]

# ---------------- layout ----------------
W, H, DPI = 1991, 1680, 100
X0, X1 = 162.5, 1861.5          # plotting area, pixels
T0, T1 = 0.0, 777.7             # hours

RED, GREEN, BLUE = "#ff0000", "#00cc00", "#0000ff"
LW = 4.3
LW_RAIN = 3.6

fig = plt.figure(figsize=(W / DPI, H / DPI), dpi=DPI, facecolor="black")


def panel(y_top, y_bot, va, ya, vb, yb):
    """Axes spanning pixel rows y_top..y_bot; value va sits at pixel ya, vb at yb."""
    k = (yb - ya) / (vb - va)
    v_top = va + (y_top - ya) / k
    v_bot = va + (y_bot - ya) / k
    ax = fig.add_axes([X0 / W, 1 - y_bot / H, (X1 - X0) / W, (y_bot - y_top) / H])
    ax.set_xlim(T0, T1)
    ax.set_ylim(v_bot, v_top)
    ax.set_facecolor("black")
    ax.axis("off")
    return ax


def line(ax, t, v, color, lw=LW, **kw):
    ax.plot(t, v, color=color, lw=lw, antialiased=False, **kw)


ax1 = panel(195, 320, 30, 233.33, 20, 266.67)
line(ax1, t_temp, temp_min, BLUE)
line(ax1, t_temp, temp_mean, GREEN)
line(ax1, t_temp, temp_max, RED)

ax2 = panel(300, 515, 10, 333.33, -10, 466.67)
line(ax2, t_dew, dew_min, BLUE)
line(ax2, t_dew, dew_mean, GREEN)
line(ax2, t_dew, dew_max, RED)

ax3 = panel(516.7, 645, 1030, 507.92, 1020, 634.9)
line(ax3, t_pres, pres_min, BLUE)
line(ax3, t_pres, pres_mean, GREEN)
line(ax3, t_pres, pres_max, RED)

ax4 = panel(805, 945, 0, 933.33, 10, 866.67)
line(ax4, t_wind, wind, GREEN)
line(ax4, t_gust, gust, RED)

ax5 = panel(925, 1140, 100, 940.0, 50, 1106.67)
line(ax5, t_rh, rh, GREEN)

ax6 = panel(1300, 1350, 0, 1339.33, 1, 1319.33)
line(ax6, t_rain, rain, GREEN, lw=LW_RAIN, solid_capstyle="butt")

ax7 = panel(1370, 1560, 0, 1547, 600, 1447)
line(ax7, t_solar, solar, GREEN)

fig.savefig("out.png", dpi=DPI, facecolor="black")
